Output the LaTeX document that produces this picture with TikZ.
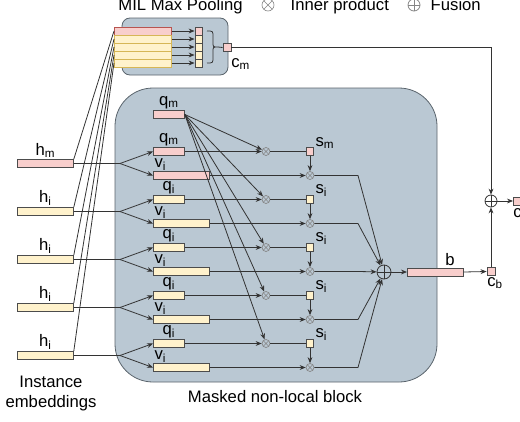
\documentclass[tikz,border=0pt]{standalone}
\usepackage{fontspec}
\setmainfont{Liberation Sans}
\usetikzlibrary{arrows.meta,calc}
\definecolor{pinkf}{HTML}{F8CECC}
\definecolor{pinkd}{HTML}{B85450}
\definecolor{yelf}{HTML}{FFF2CC}
\definecolor{yeld}{HTML}{D6B656}
\definecolor{blockf}{HTML}{BAC8D3}
\definecolor{blockd}{HTML}{5A646C}
\definecolor{lin}{HTML}{333333}
\definecolor{otc}{HTML}{858585}
\begin{document}
\begin{tikzpicture}[x=0.75pt,y=-0.75pt,
  font=\fontsize{12.5}{15}\selectfont,
  ln/.style={draw=lin, line width=0.6pt},
  arr/.style={ln, -{Stealth[length=4.5pt,width=3.6pt]}},
  bar/.style={draw=black!70, line width=0.6pt, inner sep=0, minimum height=6pt, anchor=west},
  sqbox/.style={draw=black!70, line width=0.6pt, inner sep=0, minimum width=5.25pt, minimum height=5.5pt},
  lbl/.style={inner sep=0},
  otimesn/.style={circle, draw=otc, fill=blockf, line width=0.5pt, inner sep=0, minimum size=6pt,
    path picture={\draw[otc, line width=0.4pt] (path picture bounding box.south west) -- (path picture bounding box.north east)
      (path picture bounding box.north west) -- (path picture bounding box.south east);}},
  oplusn/.style={circle, draw=black!80, line width=0.6pt, inner sep=0, minimum size=10.5pt,
    path picture={\draw[black!80, line width=0.6pt] (path picture bounding box.north) -- (path picture bounding box.south)
      (path picture bounding box.west) -- (path picture bounding box.east);}},
  legot/.style={otimesn, fill=white, minimum size=9pt},
  legop/.style={oplusn, draw=otc, minimum size=9pt, path picture={\draw[otc, line width=0.5pt] (path picture bounding box.north) -- (path picture bounding box.south)
      (path picture bounding box.west) -- (path picture bounding box.east);}}
  ]
\useasboundingbox (0,0) rectangle (520,421);

% legend
\node[anchor=base] (lgmil) at (180.5,10.5) {MIL Max Pooling};
\node[legot] (lgot) at (268,5) {};
\node[anchor=base west] (lgip) at (286,10.5) {Inner product};
\node[legop] (lgfu) at (414,5) {};
\node[anchor=base west] (lgfus) at (426,10.5) {Fusion};

% containers
\node[draw=blockd, fill=blockf, line width=0.6pt, rounded corners=6pt, minimum width=79.5pt, minimum height=42.75pt, inner sep=0] (mil) at (175,46.5) {};
\node[draw=blockd, fill=blockf, line width=0.6pt, rounded corners=28.5pt, minimum width=241.5pt, minimum height=220.5pt, inner sep=0] (block) at (276,235) {};

% MIL stack
\foreach \k/\f/\d in {0/pinkf/pinkd,1/yelf/yeld,2/yelf/yeld,3/yelf/yeld,4/yelf/yeld}{
  \pgfmathsetmacro\ym{31+8*\k}
  \node[bar, fill=\f, draw=\d, minimum width=42.75pt] (mrow\k) at (114,\ym) {};
  \node[sqbox, fill=\f, minimum height=6pt] (col\k) at (198.5,\ym) {};
  \draw[arr] (mrow\k.east) -- (col\k.west);
}
\coordinate (bt) at (218,47);
\draw[ln] (207,31) .. controls (213,31) .. (213,37) -- (213,42) .. controls (213,47) .. (bt)
  .. controls (213,47) .. (213,52) -- (213,57) .. controls (213,63) .. (207,63);
\node[sqbox, fill=pinkf, minimum width=6pt, minimum height=6pt] (cm) at (227,47.5) {};
\draw[ln] (bt) -- (cm.west);
\node[anchor=base west, lbl] (cml) at (231,67) {c\textsubscript{m}};

% fusion outside
\node[oplusn, minimum size=9pt] (fuse) at (491,201) {};
\draw[arr] (cm.east) -| (fuse.north);
\node[sqbox, fill=pinkf, minimum width=6pt, minimum height=6pt] (cb) at (491,271.5) {};
\node[anchor=base west, lbl] (cbl) at (487,286) {c\textsubscript{b}};
\draw[arr] (cb.north) -- (fuse.south);
\node[sqbox, fill=pinkf, minimum width=6pt, minimum height=6pt, anchor=west] (cout) at (513,201) {};
\node[anchor=base west, lbl] (coutl) at (513,217) {c};
\draw[arr] (fuse.east) -- (cout.west);

% b bar and big fusion
\node[bar, fill=pinkf, minimum width=42pt] (b) at (407,272) {};
\node[anchor=base, lbl] (bl) at (450,265) {b};
\draw[arr] (b.east) -- (cb.west);
\node[oplusn] (bf) at (384,272) {};
\draw[arr] (bf.east) -- (b.west);

% top q_m
\node[bar, fill=pinkf, minimum width=23.25pt] (qt) at (153,114.5) {};
\node[above=0.6pt, lbl] (qtl) at (qt.north) {q\textsubscript{m}};

% rows
\foreach \k/\f/\sb in {0/pinkf/m,1/yelf/i,2/yelf/i,3/yelf/i,4/yelf/i}{
  \pgfmathsetmacro\yh{163.5+48*\k}
  \node[bar, fill=\f, minimum width=42pt] (h\k) at (17,\yh) {};
  \node[above=1pt, lbl] (hl\k) at (h\k.north) {h\textsubscript{\sb}};
  \coordinate (sp\k) at (120,\yh);
  \node[bar, fill=\f, minimum width=23.25pt] (q\k) at (153,\yh-12) {};
  \node[above=0.6pt, lbl] (ql\k) at (q\k.north) {q\textsubscript{\sb}};
  \node[bar, fill=\f, minimum width=42pt] (v\k) at (153,\yh+12) {};
  \node[anchor=south west, lbl] (vl\k) at ([xshift=1pt,yshift=0.3pt]v\k.north west) {v\textsubscript{i}};
  \node[otimesn] (o\k) at (266,\yh-12) {};
  \node[sqbox, fill=\f] (s\k) at (310,\yh-12) {};
  \node[anchor=south west, lbl] (sl\k) at ([xshift=1pt,yshift=-1pt]s\k.north east) {s\textsubscript{\sb}};
  \node[otimesn] (p\k) at (310,\yh+12) {};
  \coordinate (t\k) at (358,\yh+12);
  \draw[ln] (h\k.east) -- (sp\k);
  \draw[arr] (sp\k) -- (q\k.west);
  \draw[arr] (sp\k) -- (v\k.west);
  \draw[ln] (h\k.north east) -- (mrow\k.west);
  \draw[arr] (q\k.east) -- (o\k);
  \draw[ln] (o\k) -- (s\k);
  \draw[arr] (s\k) -- (p\k);
  \draw[arr] (v\k.east) -- (p\k);
  \draw[arr] (qt.east) -- (o\k);
  \draw[arr] (p\k) -- (t\k) -- (bf);
}

% captions
\node[align=center, lbl] (inst) at (51,393) {Instance\\embeddings};
\node[anchor=base, lbl] (mcap) at (275,402) {Masked non-local block};
\end{tikzpicture}
\end{document}
